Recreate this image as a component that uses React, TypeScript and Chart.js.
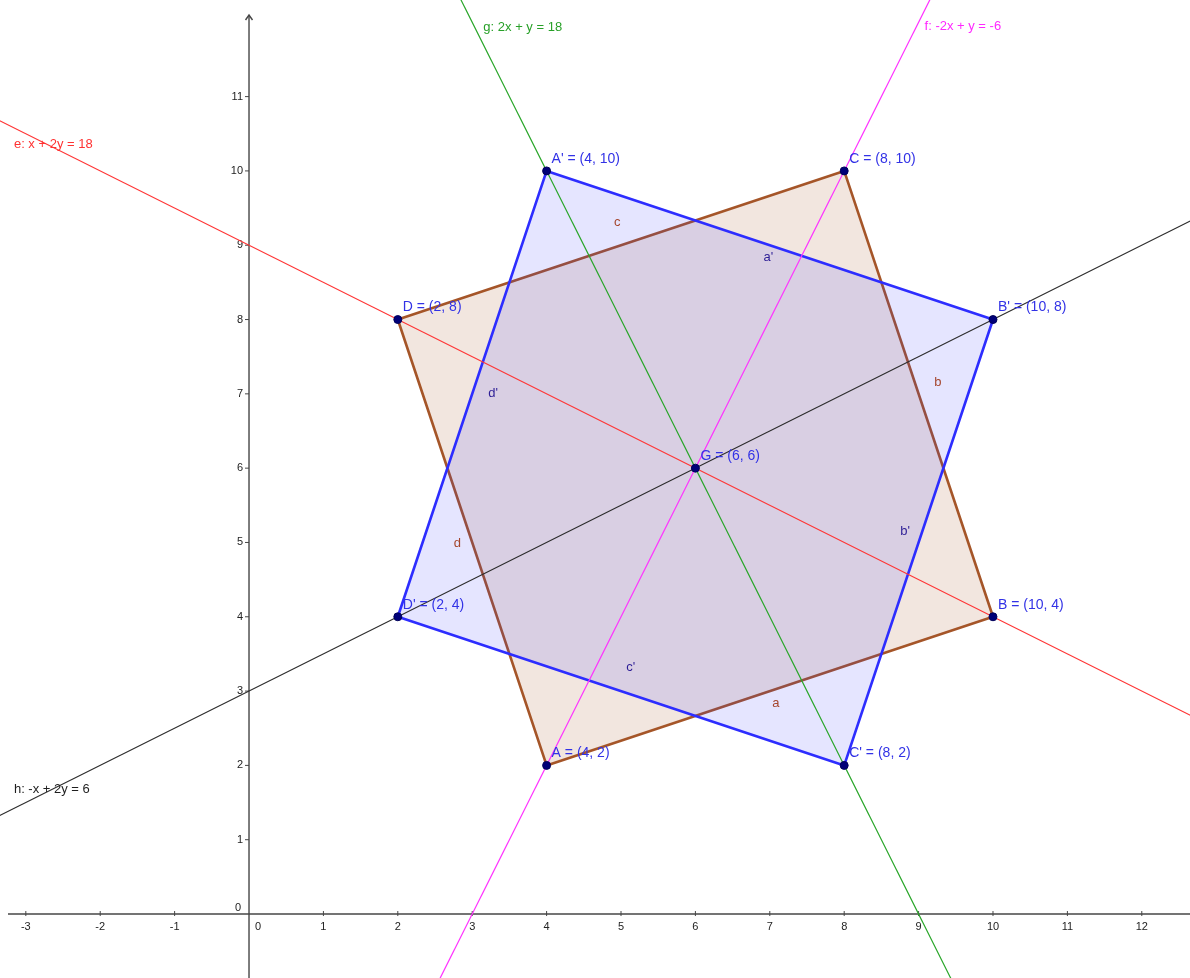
import React, { useEffect, useRef } from 'react';
import { Chart, registerables } from 'chart.js';

Chart.register(...registerables);

// visible window (data units)
const X_MIN = -3.347;
const X_MAX = 12.648;
const Y_MIN = -0.861;
const Y_MAX = 12.3;

// points
const pointNames = ['A', 'B', 'C', 'D', "A'", "B'", "C'", "D'", 'G'];
const pointX = [4, 10, 8, 2, 4, 10, 8, 2, 6];
const pointY = [2, 4, 10, 8, 10, 8, 2, 4, 6];

// polygons (vertex names)
const polygonBrown = ['A', 'B', 'C', 'D'];
const polygonBlue = ["A'", "B'", "C'", "D'"];

// lines a*x + b*y = c
const lineNames = ['e', 'f', 'g', 'h'];
const lineA = [1, -2, 2, -1];
const lineB = [2, 1, 1, 2];
const lineC = [18, -6, 18, 6];
const lineLabels = ['e: x + 2y = 18', 'f: -2x + y = -6', 'g: 2x + y = 18', 'h: -x + 2y = 6'];
const lineLabelX = [-3.16, 9.08, 3.15, -3.16];
const lineLabelY = [10.36, 11.95, 11.93, 1.67];

// segment labels
const segmentNames = ['a', 'b', 'c', 'd', "a'", "b'", "c'", "d'"];
const segmentLabelX = [7.08, 9.26, 4.95, 2.8, 6.98, 8.82, 5.13, 3.28];
const segmentLabelY = [2.84, 7.15, 9.31, 4.99, 8.83, 5.15, 3.32, 7.0];

// axis ticks
const xTicks = [-3, -2, -1, 1, 2, 3, 4, 5, 6, 7, 8, 9, 10, 11, 12];
const yTicks = [1, 2, 3, 4, 5, 6, 7, 8, 9, 10, 11];

// styles
const lineColors = ['rgb(255,55,55)', 'rgb(255,50,255)', 'rgb(40,165,40)', 'rgb(45,45,45)'];
const lineTextColors = ['rgb(255,50,50)', 'rgb(255,40,255)', 'rgb(40,160,40)', 'rgb(30,30,30)'];
const BROWN = 'rgb(165,85,40)';
const BROWN_FILL = 'rgba(165,85,40,0.15)';
const BLUE = 'rgb(45,45,255)';
const BLUE_FILL = 'rgba(40,40,255,0.12)';
const FONT = '"Liberation Sans", Arial, sans-serif';

function pointByName(n: string) {
  const i = pointNames.indexOf(n);
  return { x: pointX[i], y: pointY[i] };
}

function polygonData(names: string[]) {
  const pts = names.map(pointByName);
  return [...pts, pts[0]];
}

function lineData(a: number, b: number, c: number) {
  if (Math.abs(b) >= Math.abs(a)) {
    return [X_MIN - 1, X_MAX + 1].map((x) => ({ x, y: (c - a * x) / b }));
  }
  return [Y_MIN - 1, Y_MAX + 1].map((y) => ({ x: (c - b * y) / a, y }));
}

const geometryPlugin = {
  id: 'geometry',
  beforeDatasetsDraw(chart: any) {
    const { ctx, chartArea } = chart;
    const xs = chart.scales.x;
    const ys = chart.scales.y;
    const x0 = xs.getPixelForValue(0);
    const y0 = ys.getPixelForValue(0);
    ctx.save();
    ctx.strokeStyle = 'rgb(70,70,70)';
    ctx.lineWidth = 1.4;
    // x axis
    ctx.beginPath();
    ctx.moveTo(chartArea.left + 8, y0);
    ctx.lineTo(chartArea.right, y0);
    ctx.stroke();
    // y axis with arrow
    const topY = chartArea.top + 15;
    ctx.beginPath();
    ctx.moveTo(x0, chartArea.bottom);
    ctx.lineTo(x0, topY);
    ctx.stroke();
    ctx.beginPath();
    ctx.moveTo(x0 - 3.5, topY + 5);
    ctx.lineTo(x0, topY);
    ctx.lineTo(x0 + 3.5, topY + 5);
    ctx.stroke();
    // ticks
    ctx.lineWidth = 1;
    ctx.fillStyle = 'rgb(35,35,35)';
    ctx.font = `11px ${FONT}`;
    ctx.textBaseline = 'middle';
    ctx.textAlign = 'center';
    for (const t of xTicks) {
      const px = xs.getPixelForValue(t);
      ctx.beginPath();
      ctx.moveTo(px, y0 - 3);
      ctx.lineTo(px, y0 + 2);
      ctx.stroke();
      ctx.fillText(String(t), px, y0 + 13);
    }
    ctx.textAlign = 'right';
    for (const t of yTicks) {
      const py = ys.getPixelForValue(t);
      ctx.beginPath();
      ctx.moveTo(x0 - 4, py);
      ctx.lineTo(x0, py);
      ctx.stroke();
      ctx.fillText(String(t), x0 - 6, py);
    }
    ctx.fillText('0', x0 - 8, y0 - 6);
    ctx.textAlign = 'left';
    ctx.fillText('0', x0 + 6, y0 + 13);
    ctx.restore();
  },
  afterDatasetsDraw(chart: any) {
    const { ctx } = chart;
    const xs = chart.scales.x;
    const ys = chart.scales.y;
    ctx.save();
    ctx.textBaseline = 'middle';
    // line labels
    ctx.textAlign = 'left';
    ctx.font = `13px ${FONT}`;
    lineLabels.forEach((t, i) => {
      ctx.fillStyle = lineTextColors[i];
      ctx.fillText(t, xs.getPixelForValue(lineLabelX[i]), ys.getPixelForValue(lineLabelY[i]));
    });
    // segment labels
    ctx.textAlign = 'center';
    segmentNames.forEach((t, i) => {
      ctx.fillStyle = t.includes("'") ? 'rgb(45,30,150)' : 'rgb(165,70,45)';
      ctx.fillText(t, xs.getPixelForValue(segmentLabelX[i]), ys.getPixelForValue(segmentLabelY[i]));
    });
    // point labels
    ctx.textAlign = 'left';
    ctx.font = `14px ${FONT}`;
    ctx.fillStyle = 'rgb(50,50,230)';
    pointNames.forEach((n, i) => {
      const px = xs.getPixelForValue(pointX[i]);
      const py = ys.getPixelForValue(pointY[i]);
      ctx.fillText(`${n} = (${pointX[i]}, ${pointY[i]})`, px + 5, py - 12);
    });
    ctx.restore();
  },
};

export default function App() {
  const ref = useRef<HTMLCanvasElement | null>(null);
  useEffect(() => {
    document.body.style.margin = '0';
    const canvas = ref.current;
    if (!canvas) return;
    const datasets: any[] = [];
    datasets.push({
      label: 'points',
      data: pointNames.map((_, i) => ({ x: pointX[i], y: pointY[i] })),
      showLine: false,
      pointRadius: 4,
      pointBackgroundColor: 'rgb(0,0,120)',
      pointBorderColor: 'rgb(0,0,90)',
      pointBorderWidth: 1,
      order: 0,
    });
    lineNames.forEach((n, i) => {
      datasets.push({
        label: n,
        data: lineData(lineA[i], lineB[i], lineC[i]),
        borderColor: lineColors[i],
        borderWidth: 1.2,
        pointRadius: 0,
        fill: false,
        order: 1,
      });
    });
    datasets.push({
      label: 'poly2',
      data: polygonData(polygonBlue),
      borderColor: BLUE,
      backgroundColor: BLUE_FILL,
      borderWidth: 2.6,
      pointRadius: 0,
      fill: 'shape',
      order: 2,
    });
    datasets.push({
      label: 'poly1',
      data: polygonData(polygonBrown),
      borderColor: BROWN,
      backgroundColor: BROWN_FILL,
      borderWidth: 2.6,
      pointRadius: 0,
      fill: 'shape',
      order: 3,
    });
    const chart = new Chart(canvas, {
      type: 'line',
      data: { datasets },
      options: {
        animation: false,
        responsive: false,
        devicePixelRatio: 1,
        events: [],
        layout: { padding: 0, autoPadding: false },
        elements: { line: { tension: 0, borderJoinStyle: 'round' } },
        plugins: { legend: { display: false }, tooltip: { enabled: false } },
        scales: {
          x: { type: 'linear', min: X_MIN, max: X_MAX, display: false },
          y: { type: 'linear', min: Y_MIN, max: Y_MAX, display: false },
        },
      },
      plugins: [geometryPlugin],
    });
    return () => chart.destroy();
  }, []);
  return (
    <div style={{ position: 'absolute', left: 0, top: 0, width: 1190, height: 978 }}>
      <canvas ref={ref} width={1190} height={978} style={{ display: 'block' }} />
    </div>
  );
}
